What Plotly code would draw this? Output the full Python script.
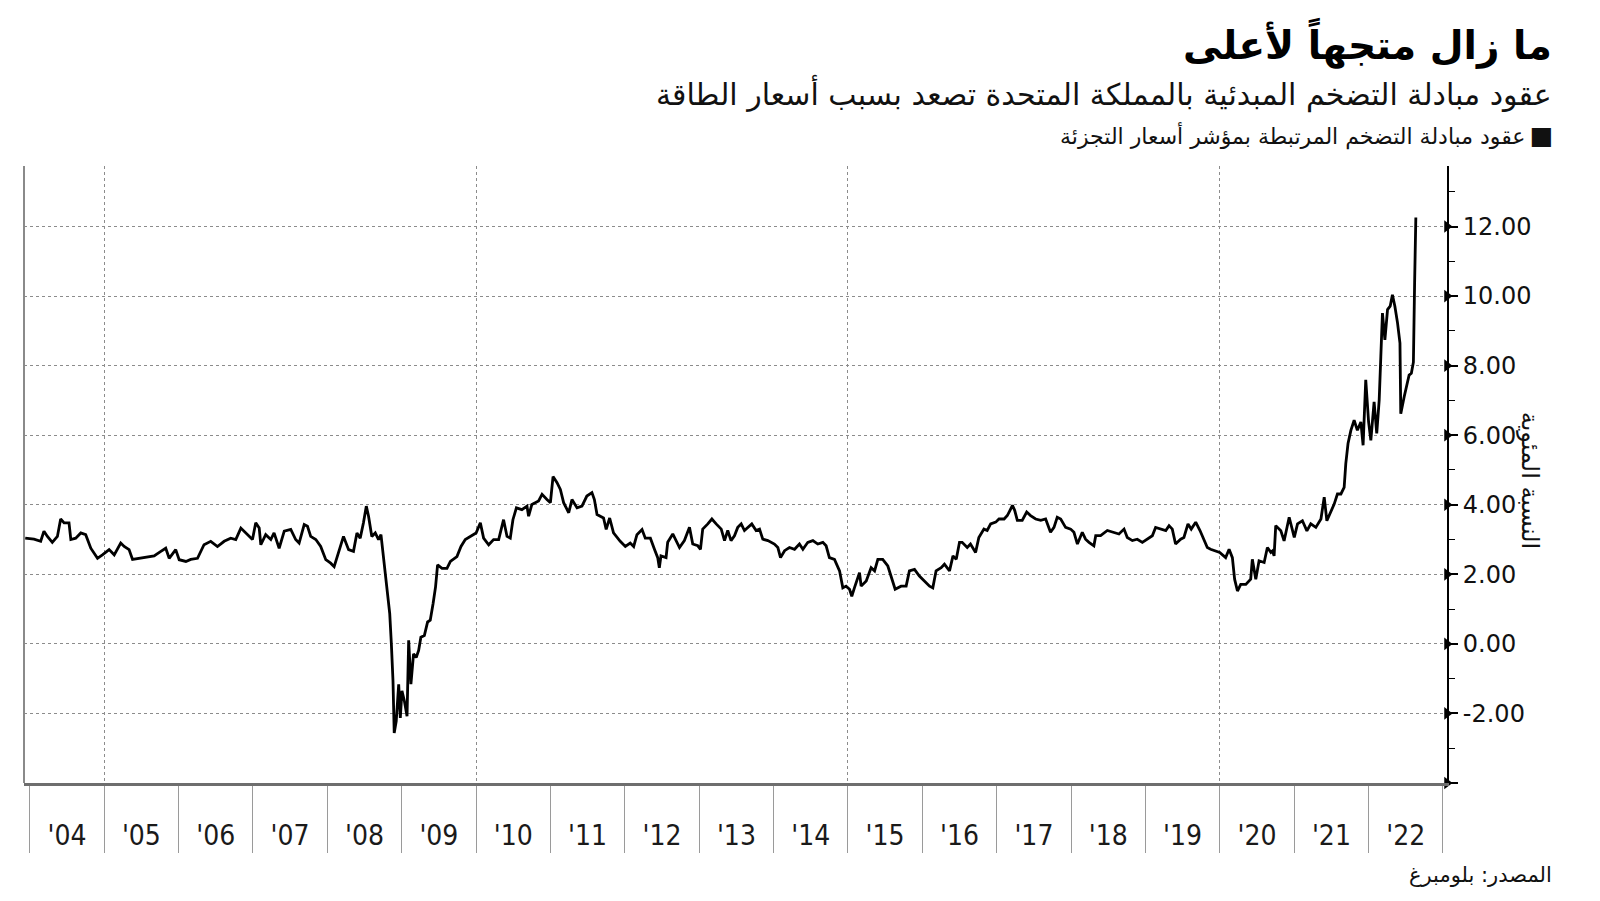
import pandas as pd
import plotly.graph_objects as go

# ---------------- data ----------------
# decimal years and UK RPI inflation swap levels (%)
years_2004_2008 = [2003.94, 2004.058, 2004.148, 2004.193, 2004.238, 2004.305, 2004.372, 2004.417, 2004.462, 2004.529,
                   2004.552, 2004.619, 2004.686, 2004.753, 2004.821, 2004.910, 2004.978, 2005.067, 2005.135, 2005.224,
                   2005.269, 2005.336, 2005.381, 2005.493, 2005.583, 2005.673, 2005.762, 2005.830, 2005.874, 2005.964,
                   2006.009, 2006.099, 2006.166, 2006.256, 2006.345, 2006.435, 2006.525, 2006.614, 2006.704, 2006.771,
                   2006.839, 2006.928, 2006.996, 2007.040, 2007.085, 2007.108, 2007.175, 2007.242, 2007.287, 2007.354,
                   2007.422, 2007.511, 2007.578, 2007.623, 2007.691, 2007.735, 2007.780, 2007.848, 2007.915, 2007.982,
                   2008.049, 2008.094]
swap_2004_2008 = [3.04, 3.01, 2.95, 3.24, 3.09, 2.92, 3.09, 3.59, 3.48, 3.48,
                  3.00, 3.04, 3.19, 3.14, 2.75, 2.46, 2.56, 2.71, 2.56, 2.90,
                  2.80, 2.71, 2.43, 2.46, 2.49, 2.53, 2.66, 2.75, 2.46, 2.71,
                  2.42, 2.37, 2.43, 2.46, 2.85, 2.95, 2.80, 2.95, 3.04, 3.00,
                  3.33, 3.14, 3.00, 3.48, 3.33, 2.85, 3.14, 3.00, 3.19, 2.75,
                  3.24, 3.29, 3.00, 2.90, 3.43, 3.38, 3.09, 3.00, 2.80, 2.42,
                  2.32, 2.22]

years_2008_2012 = [2008.152, 2008.220, 2008.287, 2008.354, 2008.399, 2008.444, 2008.489, 2008.525, 2008.556, 2008.601,
                   2008.646, 2008.691, 2008.722, 2008.749, 2008.780, 2008.803, 2008.839, 2008.861, 2008.883, 2008.901,
                   2008.928, 2008.960, 2008.982, 2009.004, 2009.036, 2009.072, 2009.094, 2009.126, 2009.161, 2009.197,
                   2009.229, 2009.260, 2009.305, 2009.350, 2009.386, 2009.422, 2009.457, 2009.484, 2009.543, 2009.610,
                   2009.655, 2009.744, 2009.798, 2009.857, 2009.924, 2010.000, 2010.058, 2010.103, 2010.170, 2010.238,
                   2010.305, 2010.372, 2010.417, 2010.462, 2010.498, 2010.543, 2010.619, 2010.686, 2010.709, 2010.753,
                   2010.843, 2010.888, 2010.955, 2011.000, 2011.036, 2011.090, 2011.135, 2011.179, 2011.247, 2011.291,
                   2011.359, 2011.426, 2011.493, 2011.561, 2011.592, 2011.628, 2011.717, 2011.753, 2011.798, 2011.852,
                   2011.942, 2012.009, 2012.076, 2012.121, 2012.166, 2012.233, 2012.278, 2012.345]
swap_2008_2012 = [2.61, 3.09, 2.71, 2.66, 3.19, 3.04, 3.48, 3.96, 3.67, 3.09,
                  3.19, 3.00, 3.14, 2.61, 2.03, 1.55, 0.87, 0.00, -1.06, -2.56,
                  -2.22, -1.16, -2.13, -1.35, -1.64, -2.08, 0.10, -1.16, -0.29, -0.39,
                  -0.19, 0.19, 0.24, 0.63, 0.68, 1.16, 1.64, 2.27, 2.17, 2.17,
                  2.37, 2.51, 2.80, 3.00, 3.09, 3.19, 3.48, 3.04, 2.85, 3.00,
                  3.00, 3.57, 3.09, 3.04, 3.57, 3.91, 3.86, 3.96, 3.67, 4.01,
                  4.11, 4.30, 4.15, 4.06, 4.81, 4.64, 4.44, 4.06, 3.77, 4.15,
                  3.91, 3.96, 4.25, 4.35, 4.15, 3.72, 3.62, 3.29, 3.62, 3.19,
                  2.95, 2.80, 2.90, 2.80, 3.14, 3.29, 3.04, 3.04]

years_2012_2016 = [2012.399, 2012.444, 2012.466, 2012.489, 2012.556, 2012.578, 2012.646, 2012.691, 2012.735, 2012.803,
                   2012.870, 2012.915, 2012.982, 2013.018, 2013.049, 2013.117, 2013.170, 2013.229, 2013.296, 2013.341,
                   2013.386, 2013.430, 2013.475, 2013.520, 2013.565, 2013.610, 2013.655, 2013.709, 2013.767, 2013.812,
                   2013.857, 2013.924, 2014.013, 2014.058, 2014.094, 2014.148, 2014.215, 2014.283, 2014.350, 2014.395,
                   2014.462, 2014.529, 2014.596, 2014.664, 2014.709, 2014.753, 2014.821, 2014.888, 2014.933, 2014.978,
                   2015.022, 2015.054, 2015.090, 2015.157, 2015.179, 2015.247, 2015.314, 2015.359, 2015.404, 2015.471,
                   2015.538, 2015.583, 2015.637, 2015.717, 2015.785, 2015.830, 2015.897, 2015.964, 2016.031, 2016.099,
                   2016.143, 2016.188, 2016.256, 2016.300, 2016.368, 2016.413, 2016.457, 2016.502]
swap_2012_2016 = [2.72, 2.48, 2.19, 2.53, 2.48, 2.92, 3.16, 2.97, 2.77, 2.97,
                  3.35, 2.87, 2.82, 2.72, 3.30, 3.45, 3.59, 3.45, 3.30, 2.97,
                  3.26, 2.97, 3.11, 3.35, 3.45, 3.26, 3.35, 3.45, 3.26, 3.30,
                  3.01, 2.97, 2.87, 2.77, 2.48, 2.68, 2.77, 2.72, 2.87, 2.72,
                  2.92, 2.97, 2.87, 2.92, 2.82, 2.48, 2.43, 2.10, 1.61, 1.66,
                  1.57, 1.37, 1.61, 2.05, 1.66, 1.81, 2.19, 2.10, 2.43, 2.43,
                  2.24, 1.95, 1.57, 1.66, 1.66, 2.10, 2.14, 1.95, 1.81, 1.66,
                  1.61, 2.10, 2.19, 2.29, 2.10, 2.53, 2.43, 2.92]

years_2016_2020 = [2016.538, 2016.605, 2016.650, 2016.717, 2016.762, 2016.830, 2016.874, 2016.919, 2016.987, 2017.031,
                   2017.099, 2017.143, 2017.179, 2017.211, 2017.242, 2017.278, 2017.345, 2017.404, 2017.457, 2017.525,
                   2017.592, 2017.659, 2017.726, 2017.771, 2017.816, 2017.861, 2017.928, 2017.996, 2018.040, 2018.085,
                   2018.152, 2018.197, 2018.242, 2018.309, 2018.332, 2018.399, 2018.489, 2018.578, 2018.646, 2018.713,
                   2018.758, 2018.825, 2018.892, 2018.960, 2019.027, 2019.094, 2019.139, 2019.206, 2019.274, 2019.318,
                   2019.363, 2019.408, 2019.475, 2019.520, 2019.574, 2019.619, 2019.677, 2019.735, 2019.789, 2019.834,
                   2019.879, 2019.946, 2020.000, 2020.081, 2020.126, 2020.170, 2020.202, 2020.238, 2020.283, 2020.350,
                   2020.417, 2020.439, 2020.484, 2020.529, 2020.596, 2020.641, 2020.686]
swap_2016_2020 = [2.92, 2.77, 2.87, 2.63, 3.06, 3.30, 3.26, 3.45, 3.50, 3.59,
                  3.59, 3.69, 3.84, 3.98, 3.84, 3.55, 3.55, 3.79, 3.69, 3.59,
                  3.55, 3.59, 3.21, 3.35, 3.64, 3.59, 3.35, 3.30, 3.21, 2.87,
                  3.21, 3.01, 2.92, 2.82, 3.11, 3.11, 3.26, 3.21, 3.16, 3.30,
                  3.06, 2.97, 3.01, 2.92, 3.01, 3.11, 3.35, 3.30, 3.26, 3.40,
                  3.30, 2.87, 3.01, 3.06, 3.45, 3.30, 3.50, 3.26, 2.97, 2.77,
                  2.72, 2.68, 2.63, 2.48, 2.72, 2.48, 1.86, 1.52, 1.71, 1.71,
                  1.86, 2.43, 1.86, 2.39, 2.34, 2.77, 2.63]

years_2020_2022 = [2020.709, 2020.731, 2020.753, 2020.821, 2020.865, 2020.933, 2021.000, 2021.045, 2021.112, 2021.170,
                   2021.224, 2021.291, 2021.359, 2021.404, 2021.439, 2021.493, 2021.538, 2021.583, 2021.628, 2021.673,
                   2021.695, 2021.726, 2021.762, 2021.807, 2021.852, 2021.897, 2021.928, 2021.964, 2022.000, 2022.031,
                   2022.076, 2022.112, 2022.143, 2022.166, 2022.188, 2022.220, 2022.256, 2022.291, 2022.323, 2022.354,
                   2022.390, 2022.422, 2022.435, 2022.480, 2022.516, 2022.547, 2022.578, 2022.605, 2022.620, 2022.637]
swap_2020_2022 = [2.67, 2.53, 3.40, 3.25, 2.96, 3.64, 3.06, 3.45, 3.54, 3.25,
                  3.45, 3.35, 3.59, 4.22, 3.54, 3.78, 4.02, 4.31, 4.31, 4.50,
                  5.18, 5.76, 6.14, 6.43, 6.14, 6.38, 5.71, 7.59, 6.38, 5.85,
                  6.96, 6.05, 7.01, 8.26, 9.51, 8.74, 9.61, 9.71, 10.04, 9.71,
                  9.23, 8.65, 6.62, 7.11, 7.40, 7.73, 7.78, 8.10, 10.40, 12.26]

y_tick_vals = [-4, -2, 0, 2, 4, 6, 8, 10, 12]
y_tick_labels = ["", "-2.00", "0.00", "2.00", "4.00", "6.00", "8.00", "10.00", "12.00"]

title_text = "ما زال متجهاً لأعلى"
subtitle_text = "عقود مبادلة التضخم المبدئية بالمملكة المتحدة تصعد بسبب أسعار الطاقة"
legend_text = "عقود مبادلة التضخم المرتبطة بمؤشر أسعار التجزئة"
legend_symbol = "\u25A0"
y_title_text = "النسبة المئوية"
source_text = "المصدر: بلومبرغ"

# ---------------- helpers ----------------
def to_date(y):
    yr = int(y)
    start = pd.Timestamp(year=yr, month=1, day=1)
    end = pd.Timestamp(year=yr + 1, month=1, day=1)
    return (start + (end - start) * (y - yr)).strftime("%Y-%m-%d")

all_years = years_2004_2008 + years_2008_2012 + years_2012_2016 + years_2016_2020 + years_2020_2022
all_vals = swap_2004_2008 + swap_2008_2012 + swap_2012_2016 + swap_2016_2020 + swap_2020_2022
dates = [to_date(y) for y in all_years]

X_RANGE = ["2003-12-04", "2023-01-21"]
Y_RANGE = [-4, 13.74]
AR_FONT = "DejaVu Sans, sans-serif"
GRID = "#8c8c8c"

fig = go.Figure()
fig.add_trace(go.Scatter(
    x=dates, y=all_vals, mode="lines",
    line=dict(color="#000000", width=2.8),
    hoverinfo="skip", showlegend=False,
))
# carrier trace for the 5-year vertical grid axis (draws nothing)
fig.add_trace(go.Scatter(
    x=X_RANGE, y=[Y_RANGE[0], Y_RANGE[0]], xaxis="x2", mode="none",
    hoverinfo="skip", showlegend=False,
))
# right-pointing arrow heads on the value axis (sit on the axis line)
fig.add_trace(go.Scatter(
    x=[X_RANGE[1]] * len(y_tick_vals), y=y_tick_vals, mode="markers",
    marker=dict(symbol="triangle-right", size=11, color="#000000", line=dict(width=0)),
    cliponaxis=False, hoverinfo="skip", showlegend=False,
))

fig.update_layout(
    width=1600, height=901,
    margin=dict(l=24, r=153, t=166, b=118, autoexpand=False),
    paper_bgcolor="white", plot_bgcolor="white",
    showlegend=False,
    xaxis=dict(
        type="date", range=X_RANGE, autorange=False, tickmode="linear", tick0="2004-01-01", dtick="M12",
        ticklabelmode="period", tickformat="'%y",
        ticks="outside", ticklen=67, tickwidth=1, tickcolor="#9a9a9a",
        showline=True, linecolor="#6e6e6e", linewidth=3,
        showgrid=False, zeroline=False,
        tickfont=dict(family="DejaVu Sans Condensed, DejaVu Sans", size=28, color="#1a1a1a"),
        ticklabelstandoff=-42,
    ),
    xaxis2=dict(
        type="date", overlaying="x", range=X_RANGE, autorange=False,
        tickmode="linear", tick0="2005-01-01", dtick="M60",
        showgrid=True, gridcolor=GRID, griddash="dot", gridwidth=1,
        showticklabels=False, ticks="", showline=False, zeroline=False,
    ),
    yaxis=dict(
        side="right", range=Y_RANGE, autorange=False,
        tickmode="array", tickvals=y_tick_vals, ticktext=y_tick_labels,
        ticks="outside", ticklen=9, tickwidth=1.5, tickcolor="#000000",
        showline=True, linecolor="#000000", linewidth=2,
        showgrid=True, gridcolor=GRID, griddash="dot", gridwidth=1,
        zeroline=False,
        tickfont=dict(family="DejaVu Sans", size=24, color="#111111"),
        minor=dict(tickmode="linear", tick0=-3, dtick=2, ticks="outside",
                   ticklen=6, tickwidth=1, tickcolor="#000000", showgrid=False),
    ),
    shapes=[dict(type="line", xref="paper", yref="paper", x0=0, x1=0, y0=0, y1=1,
                 line=dict(color="#8a8a8a", width=2))],
)

fig.add_annotation(text=title_text, xref="paper", yref="paper", x=1.0745, y=1.199,
                   xanchor="right", yanchor="middle", showarrow=False, borderpad=0,
                   font=dict(family=AR_FONT, size=39, color="#000000", weight=700))
fig.add_annotation(text=subtitle_text, xref="paper", yref="paper", x=1.0745, y=1.118,
                   xanchor="right", yanchor="middle", showarrow=False, borderpad=0,
                   font=dict(family=AR_FONT, size=30, color="#111111"))
fig.add_annotation(text=legend_text + "\u2009<span style='font-size:25px'>" + legend_symbol + "</span>",
                   xref="paper", yref="paper", x=1.0750, y=1.0490,
                   xanchor="right", yanchor="middle", showarrow=False, borderpad=0,
                   font=dict(family=AR_FONT, size=22, color="#111111"))
fig.add_annotation(text=y_title_text, xref="paper", yref="paper", x=1.0585, y=0.491,
                   xanchor="center", yanchor="middle", showarrow=False, textangle=90,
                   font=dict(family=AR_FONT, size=24, color="#111111"))
fig.add_annotation(text=source_text, xref="paper", yref="paper", x=1.0745, y=-0.149,
                   xanchor="right", yanchor="middle", showarrow=False, borderpad=0,
                   font=dict(family=AR_FONT, size=21, color="#111111"))

fig.write_html("out.html", config={"displayModeBar": False},
               post_script="document.body.style.margin='0';document.body.style.overflow='hidden';")
